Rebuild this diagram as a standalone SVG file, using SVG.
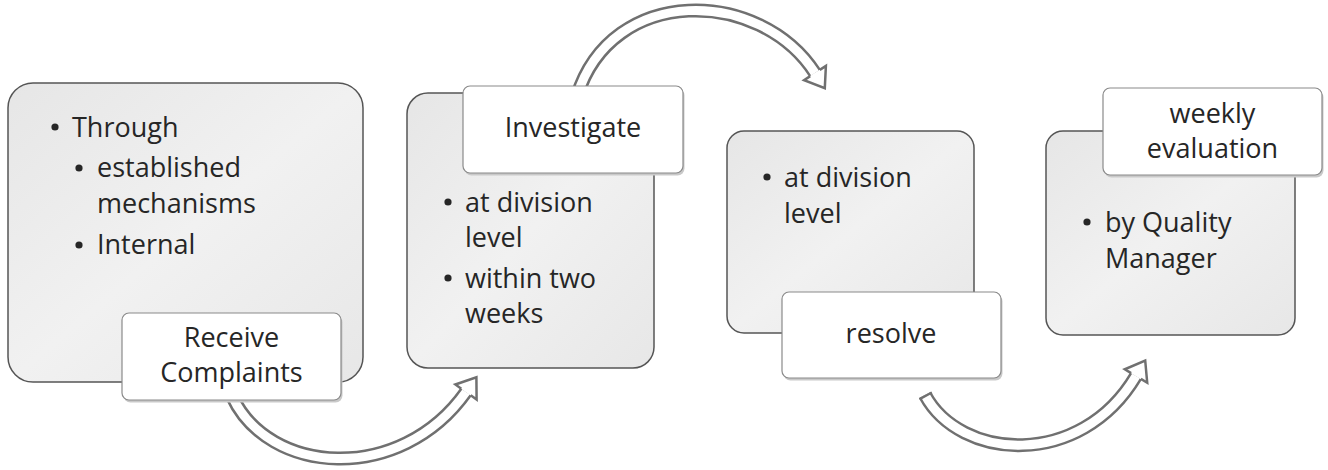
<svg xmlns="http://www.w3.org/2000/svg" width="1328" height="470" viewBox="0 0 1328 470">
  <defs>
    <linearGradient id="boxfill" x1="0" y1="0" x2="1" y2="1">
      <stop offset="0" stop-color="#e6e6e6"/>
      <stop offset="0.5" stop-color="#f1f1f1"/>
      <stop offset="1" stop-color="#e7e7e7"/>
    </linearGradient>
    <style>
      .box { fill: url(#boxfill); stroke: #555555; stroke-width: 1.5; }
      .lblshadow { fill: #c9c9c9; }
      .lbl { fill: #ffffff; stroke: #8a8a8a; stroke-width: 1.2; }
      .txt { font-family: "Open Sans", "Noto Sans", sans-serif; font-size: 27px; fill: #262626; }
      .ctr { text-anchor: middle; }
      .bul { fill: #262626; }
      .shaftout { fill: none; stroke: #707070; stroke-width: 14; stroke-linecap: butt; }
      .shaftin { fill: none; stroke: #ffffff; stroke-width: 9; stroke-linecap: butt; }
      .head { fill: #ffffff; stroke: #707070; stroke-width: 2.5; stroke-linejoin: miter; }
      .cap { fill: none; stroke: #707070; stroke-width: 2.5; }
    </style>
  </defs>

  <g id="connectors">
    <!-- Arrow 1: Receive Complaints -> Investigate -->
    <g id="arrow1">
      <path class="shaftout" d="M232,396 C268,475 400,485 466,392"/>
      <path class="shaftin" d="M232,396 C268,475 400,485 466,392"/>
      <path class="head" d="M461.3,388.7 L455.4,384.5 L476.4,377.3 L476.6,399.5 L470.7,395.3"/>
    </g>
    <!-- Arrow 2: Investigate -> resolve -->
    <g id="arrow2">
      <path class="shaftout" d="M577,96 C612,-16 760,-12 815,73"/>
      <path class="shaftin" d="M577,96 C612,-16 760,-12 815,73"/>
      <path class="head" d="M819.8,69.9 L825.9,65.9 L824.8,88.1 L804.1,80.1 L810.2,76.1"/>
    </g>
    <!-- Arrow 3: resolve -> weekly evaluation -->
    <g id="arrow3">
      <path class="shaftout" d="M925,395 C960,460 1080,470 1136,376"/>
      <path class="shaftin" d="M925,395 C960,460 1080,470 1136,376"/>
      <path class="cap" d="M919.5,399.1 L931.8,392.5"/>
      <path class="head" d="M1140.9,378.9 L1147.2,382.7 L1145.2,360.5 L1124.8,369.3 L1131.1,373.1"/>
    </g>
  </g>

  <g id="node-receive">
    <rect class="box" x="8" y="83" width="355" height="299" rx="25" ry="25"/>
    <circle class="bul" cx="55" cy="127" r="3.6"/>
    <text class="txt" x="72" y="137">Through</text>
    <circle class="bul" cx="79" cy="168" r="3.6"/>
    <text class="txt" x="97" y="177">established</text>
    <text class="txt" x="97" y="213">mechanisms</text>
    <circle class="bul" cx="79" cy="245" r="3.6"/>
    <text class="txt" x="97" y="254">Internal</text>
    <rect class="lblshadow" x="123.5" y="315.5" width="219" height="87" rx="7" ry="7"/>
    <rect class="lbl" x="122" y="313" width="219" height="87" rx="7" ry="7"/>
    <text class="txt ctr" x="231.5" y="347">Receive</text>
    <text class="txt ctr" x="231.5" y="382">Complaints</text>
  </g>

  <g id="node-investigate">
    <rect class="box" x="407" y="93" width="247" height="275" rx="21" ry="21"/>
    <circle class="bul" cx="448" cy="202" r="3.6"/>
    <text class="txt" x="465" y="212">at division</text>
    <text class="txt" x="465" y="247">level</text>
    <circle class="bul" cx="448" cy="278" r="3.6"/>
    <text class="txt" x="465" y="288">within two</text>
    <text class="txt" x="465" y="323">weeks</text>
    <rect class="lblshadow" x="464.5" y="88.5" width="220" height="87" rx="7" ry="7"/>
    <rect class="lbl" x="463" y="86" width="220" height="87" rx="7" ry="7"/>
    <text class="txt ctr" x="573" y="137">Investigate</text>
  </g>

  <g id="node-resolve">
    <rect class="box" x="727" y="131" width="247" height="202" rx="17" ry="17"/>
    <circle class="bul" cx="767" cy="177" r="3.6"/>
    <text class="txt" x="784" y="187">at division</text>
    <text class="txt" x="784" y="223">level</text>
    <rect class="lblshadow" x="783.5" y="294.5" width="219" height="86" rx="7" ry="7"/>
    <rect class="lbl" x="782" y="292" width="219" height="86" rx="7" ry="7"/>
    <text class="txt ctr" x="891" y="343">resolve</text>
  </g>

  <g id="node-evaluation">
    <rect class="box" x="1046" y="131" width="249" height="204" rx="17" ry="17"/>
    <circle class="bul" cx="1087" cy="222" r="3.6"/>
    <text class="txt" x="1105" y="232">by Quality</text>
    <text class="txt" x="1105" y="268">Manager</text>
    <rect class="lblshadow" x="1104.5" y="90.5" width="219" height="87" rx="7" ry="7"/>
    <rect class="lbl" x="1103" y="88" width="219" height="87" rx="7" ry="7"/>
    <text class="txt ctr" x="1212.5" y="123">weekly</text>
    <text class="txt ctr" x="1212.5" y="158">evaluation</text>
  </g>
</svg>
